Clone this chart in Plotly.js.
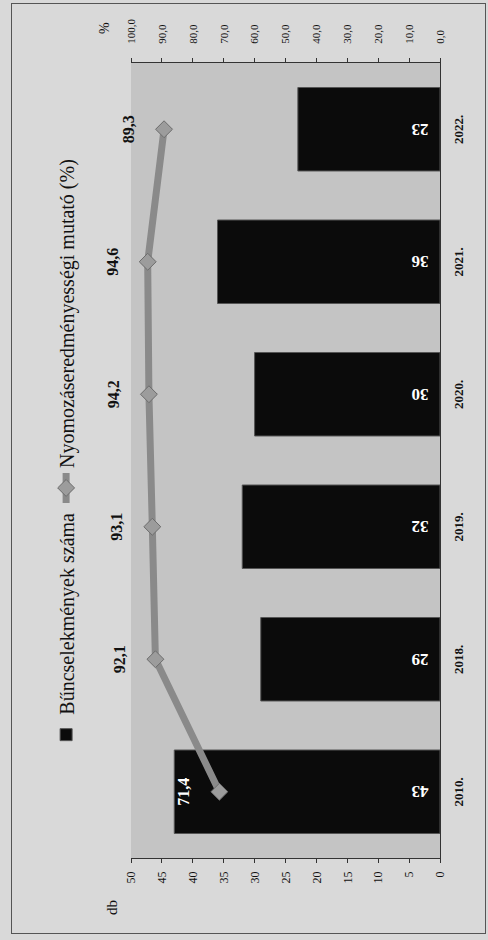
<!DOCTYPE html>
<html>
<head>
<meta charset="utf-8">
<script src="https://cdn.plot.ly/plotly-3.0.1.min.js"></script>
<style>
  html, body { margin:0; padding:0; width:488px; height:940px; overflow:hidden; background:#d9d9d9; }
  #wrap { position:absolute; left:0; top:0; width:488px; height:940px; overflow:hidden; }
  #chart { position:absolute; left:0; top:0; width:940px; height:488px;
           transform-origin:0 0; transform:translateY(940px) rotate(-90deg); }
  #frame { position:absolute; left:6px; top:11px; width:929px; height:473px; border:1px solid #555; pointer-events:none; }
</style>
</head>
<body>
<div id="wrap"><div id="chart"><div id="plot"></div><div id="frame"></div></div></div>
<script>
// ---- data ----
const years = ['2010.', '2018.', '2019.', '2020.', '2021.', '2022.'];
const crimeCounts = [43, 29, 32, 30, 36, 23];
const clearanceRate = [71.4, 92.1, 93.1, 94.2, 94.6, 89.3];
const barSeriesName = 'Bűncselekmények száma';
const lineSeriesName = 'Nyomozáseredményességi mutató (%)';
const leftAxisTitle = 'db';
const rightAxisTitle = '%';

const serif = 'Liberation Serif, Times New Roman, serif';

const traces = [
  {
    type: 'bar', name: barSeriesName, x: years, y: crimeCounts, yaxis: 'y',
    marker: { color: '#0b0b0b', line: { color: '#555', width: 1 } },
    texttemplate: '\u2002%{y}', textposition: 'inside', insidetextanchor: 'start',
    textangle: -90, constraintext: 'none',
    textfont: { family: serif, size: 17, color: '#ffffff', weight: 'bold' },
    hoverinfo: 'skip'
  },
  {
    type: 'scatter', mode: 'lines+markers', name: lineSeriesName, x: years, y: clearanceRate, yaxis: 'y2',
    line: { color: '#8a8a8a', width: 7 },
    marker: { symbol: 'diamond', size: 13, color: '#9c9c9c', line: { color: '#6c6c6c', width: 1 } },
    hoverinfo: 'skip'
  },
  {
    type: 'scatter', mode: 'markers+text', showlegend: false, x: years, y: clearanceRate, yaxis: 'y2',
    cliponaxis: false,
    marker: { size: 40, opacity: 0 },
    texttemplate: '%{y:.1f}', textposition: 'top center',
    textfont: { family: serif, size: 16, weight: 'bold', color: ['#ffffff', '#111', '#111', '#111', '#111', '#111'] },
    hoverinfo: 'skip'
  }
];

const layout = {
  width: 940, height: 488,
  margin: { l: 82, r: 63, t: 131, b: 48 },
  paper_bgcolor: '#d9d9d9', plot_bgcolor: '#c4c4c4',
  separators: ', ',
  font: { family: serif, color: '#111' },
  bargap: 0.37,
  showlegend: true,
  legend: { orientation: 'h', x: 0.13, xanchor: 'left', y: 1.21, yanchor: 'middle',
            font: { family: serif, size: 20, color: '#111' }, bgcolor: 'rgba(0,0,0,0)' },
  xaxis: { type: 'category', showline: true, linecolor: '#333', linewidth: 1, ticks: '',
           tickfont: { family: serif, size: 13, weight: 'bold' }, ticklabelstandoff: 6, fixedrange: true },
  yaxis: { range: [0, 50], dtick: 5, showgrid: false, zeroline: false, showline: true, linecolor: '#333',
           ticks: 'outside', ticklen: 4, tickcolor: '#333', tickfont: { family: serif, size: 12 }, ticklabelstandoff: 6 },
  yaxis2: { overlaying: 'y', side: 'right', range: [0, 100], dtick: 10, tickformat: '.1f', showgrid: false,
            zeroline: false, showline: true, linecolor: '#333', ticks: 'outside', ticklen: 4, tickcolor: '#333',
            tickfont: { family: serif, size: 11 }, ticklabelstandoff: 12 },
  annotations: [
    { text: leftAxisTitle, xref: 'paper', yref: 'paper', x: -0.074, y: 1.095, showarrow: false,
      font: { family: serif, size: 15 } },
    { text: rightAxisTitle, xref: 'paper', yref: 'paper', x: 1.054, y: 1.115, showarrow: false,
      font: { family: serif, size: 14 } }
  ]
};

Plotly.newPlot('plot', traces, layout, { staticPlot: true, displayModeBar: false });
</script>
</body>
</html>
